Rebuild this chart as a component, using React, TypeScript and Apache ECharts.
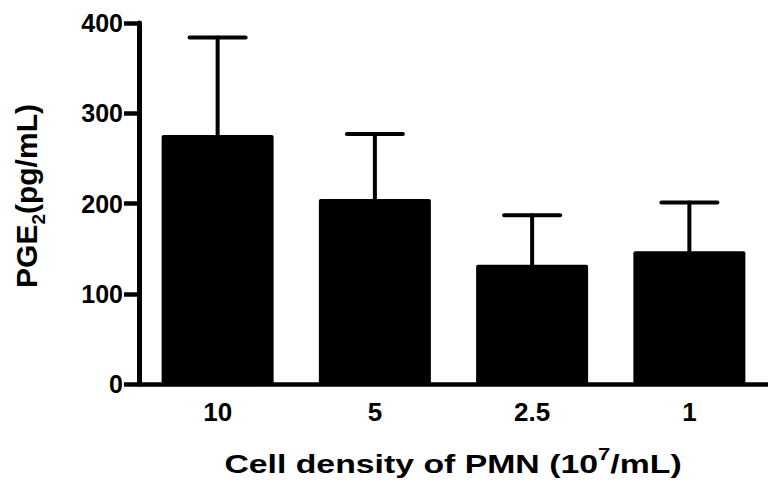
import React, { useEffect, useRef } from "react";
import * as echarts from "echarts";

const categories = ["10", "5", "2.5", "1"];
const means = [276, 205, 132, 147];
const errUpper = [108, 72, 55, 54];
const yTicks = { min: 0, max: 400, interval: 100 };

const FONT = "'Liberation Sans', Arial, sans-serif";

export default function App() {
  const ref = useRef<HTMLDivElement>(null);
  useEffect(() => {
    if (!ref.current) return;
    const chart = echarts.init(ref.current, null, { renderer: "svg" });
    const errData = means.map((m, i) => [i, m, m + errUpper[i]]);
    chart.setOption({
      animation: false,
      backgroundColor: "#ffffff",
      grid: { left: 139, top: 23, width: 634, height: 361, containLabel: false },
      xAxis: {
        type: "category",
        data: categories,
        axisLine: { lineStyle: { color: "#000", width: 4.5 } },
        axisTick: { alignWithLabel: true, length: 11, lineStyle: { color: "#000", width: 4.5 } },
        axisLabel: { color: "#000", fontSize: 26, fontWeight: "bold", fontFamily: FONT, margin: 15 },
        splitLine: { show: false },
      },
      yAxis: {
        type: "value",
        min: yTicks.min,
        max: yTicks.max,
        interval: yTicks.interval,
        axisLine: { show: true, lineStyle: { color: "#000", width: 5 } },
        axisTick: { show: true, length: 15, lineStyle: { color: "#000", width: 4.5 } },
        axisLabel: { color: "#000", fontSize: 25, fontWeight: "bold", fontFamily: FONT, margin: 16 },
        splitLine: { show: false },
      },
      series: [
        {
          type: "bar",
          data: means,
          barWidth: 112,
          itemStyle: { color: "#000", borderRadius: 2 },
          z: 2,
        },
        {
          type: "custom",
          data: errData,
          z: 3,
          renderItem: (params: any, api: any) => {
            const idx = api.value(0);
            const lo = api.coord([idx, api.value(1)]);
            const hi = api.coord([idx, api.value(2)]);
            const half = 28;
            const style = { stroke: "#000", lineWidth: 4, lineCap: "round" };
            return {
              type: "group",
              children: [
                { type: "line", shape: { x1: lo[0], y1: lo[1], x2: hi[0], y2: hi[1] }, style },
                { type: "line", shape: { x1: hi[0] - half, y1: hi[1], x2: hi[0] + half, y2: hi[1] }, style },
              ],
            };
          },
        },
      ],
      graphic: [
        {
          type: "text",
          x: 26,
          y: 196,
          rotation: Math.PI / 2,
          style: {
            text: "{a|PGE}{b|2}{a|(pg/mL)}",
            align: "center",
            verticalAlign: "middle",
            fill: "#000",
            rich: {
              a: { fontSize: 30, lineHeight: 30, fontWeight: "bold", fontFamily: FONT, fill: "#000" },
              b: {
                fontSize: 19,
                lineHeight: 19,
                fontWeight: "bold",
                fontFamily: FONT,
                fill: "#000",
                verticalAlign: "top",
                padding: [18, 0, 0, 0],
              },
            },
          },
        },
        {
          type: "text",
          x: 453,
          y: 464,
          scaleX: 1.3,
          style: {
            text: "{a|Cell density of PMN (10}{s|7}{a|/mL)}",
            align: "center",
            verticalAlign: "middle",
            fill: "#000",
            rich: {
              a: { fontSize: 26, lineHeight: 26, fontWeight: "bold", fontFamily: FONT, fill: "#000" },
              s: {
                fontSize: 17,
                lineHeight: 17,
                fontWeight: "bold",
                fontFamily: FONT,
                fill: "#000",
                padding: [0, 0, 20, 0],
              },
            },
          },
        },
      ],
    });
    return () => chart.dispose();
  }, []);
  return (
    <div
      ref={ref}
      style={{ position: "fixed", left: 0, top: 0, width: 768, height: 487, background: "#fff" }}
    />
  );
}
